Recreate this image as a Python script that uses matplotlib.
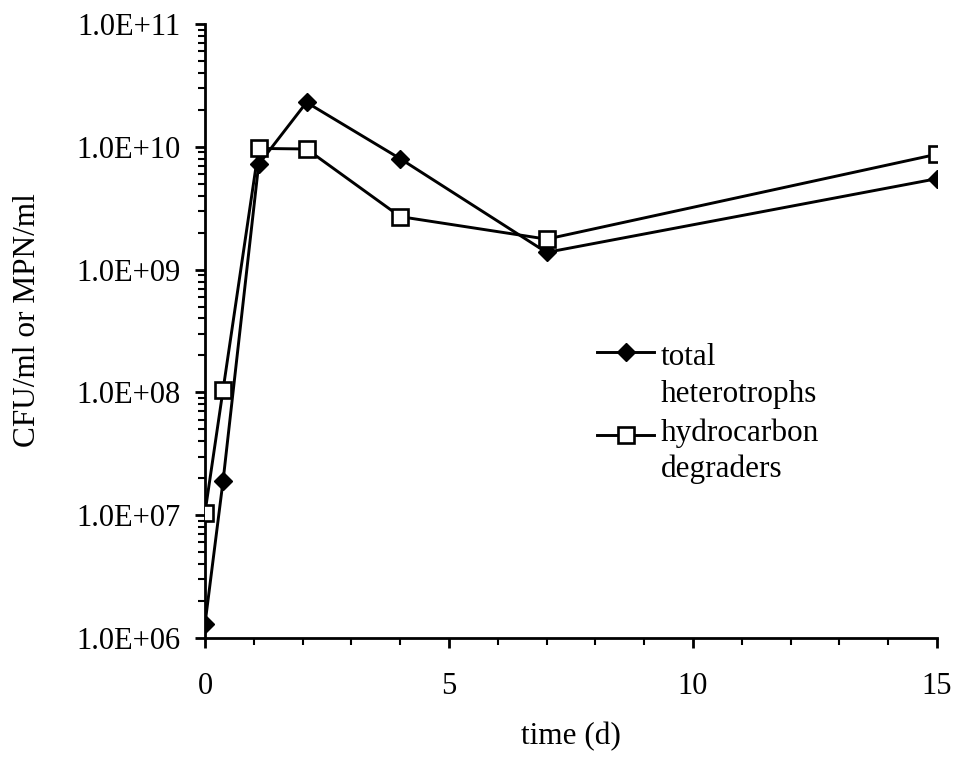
import matplotlib
matplotlib.use("Agg")
import matplotlib.pyplot as plt
from matplotlib.ticker import FixedLocator, LogLocator, FuncFormatter, MultipleLocator
from matplotlib.lines import Line2D

time_d = [0, 0.37, 1.1, 2.08, 4.0, 7.0, 15]
total_heterotrophs = [1.3e6, 1.9e7, 7.2e9, 2.3e10, 8.0e9, 1.38e9, 5.5e9]
hydrocarbon_degraders = [1.05e7, 1.05e8, 9.7e9, 9.6e9, 2.7e9, 1.77e9, 8.7e9]
y_ticks = [1e6, 1e7, 1e8, 1e9, 1e10, 1e11]
x_ticks = [0, 5, 10, 15]
legend_labels = ["total\nheterotrophs", "hydrocarbon\ndegraders"]

plt.rcParams['font.family'] = ['Liberation Serif', 'DejaVu Serif']
FS = 22.5

fig = plt.figure(figsize=(9.54, 7.59), dpi=100)
ax = fig.add_axes([205 / 954, 1 - 638 / 759, 732 / 954, 614 / 759])

ax.plot(time_d, total_heterotrophs, color='black', lw=2.1, marker='D',
        markersize=9.5, markerfacecolor='black', markeredgecolor='black', zorder=3)
ax.plot(time_d, hydrocarbon_degraders, color='black', lw=2.1, marker='s',
        markersize=11.5, markerfacecolor='white', markeredgecolor='black',
        markeredgewidth=1.9, zorder=4)

ax.set_yscale('log')
ax.set_ylim(1e6, 1e11)
ax.set_xlim(0, 15)
ax.yaxis.set_major_locator(FixedLocator(y_ticks))
ax.yaxis.set_minor_locator(LogLocator(base=10, subs=range(2, 10)))
ax.yaxis.set_major_formatter(FuncFormatter(lambda v, p: "{:.1E}".format(v)))
ax.xaxis.set_major_locator(FixedLocator(x_ticks))
ax.xaxis.set_minor_locator(MultipleLocator(1))

for s in ['top', 'right']:
    ax.spines[s].set_visible(False)
for s in ['left', 'bottom']:
    ax.spines[s].set_linewidth(2)

ax.tick_params(axis='both', which='major', direction='out', length=7.5, width=2,
               labelsize=22)
ax.tick_params(axis='both', which='minor', direction='out', length=5, width=1.5)
ax.tick_params(axis='y', which='major', pad=10)
ax.tick_params(axis='x', which='major', pad=17)

ax.set_xlabel('time (d)', fontsize=FS, labelpad=15)
ax.set_ylabel('CFU/ml or MPN/ml', fontsize=FS)
ax.yaxis.set_label_coords(-0.222, 0.517)

# manual legend (no frame), handle aligned with first text line
leg_x0, leg_x1 = 0.536, 0.614
leg_text_x = 0.623
handle_y = [0.465, 0.331]
baselines = [[0.445, 0.385], [0.321, 0.263]]
styles = [('D', 'black', 9.5, 1.0), ('s', 'white', 11.5, 1.9)]
for yy, (mk, fc, ms, mew), lab, bls in zip(handle_y, styles, legend_labels, baselines):
    ax.add_line(Line2D([leg_x0, leg_x1], [yy, yy], transform=ax.transAxes,
                       color='black', lw=2.1, clip_on=False))
    ax.add_line(Line2D([(leg_x0 + leg_x1) / 2], [yy], transform=ax.transAxes,
                       marker=mk, markersize=ms, markerfacecolor=fc,
                       markeredgecolor='black', markeredgewidth=mew,
                       linestyle='none', clip_on=False))
    for line_text, bl in zip(lab.split('\n'), bls):
        ax.text(leg_text_x, bl, line_text, transform=ax.transAxes, fontsize=FS,
                va='baseline', ha='left')

fig.savefig('out.png', dpi=100)
